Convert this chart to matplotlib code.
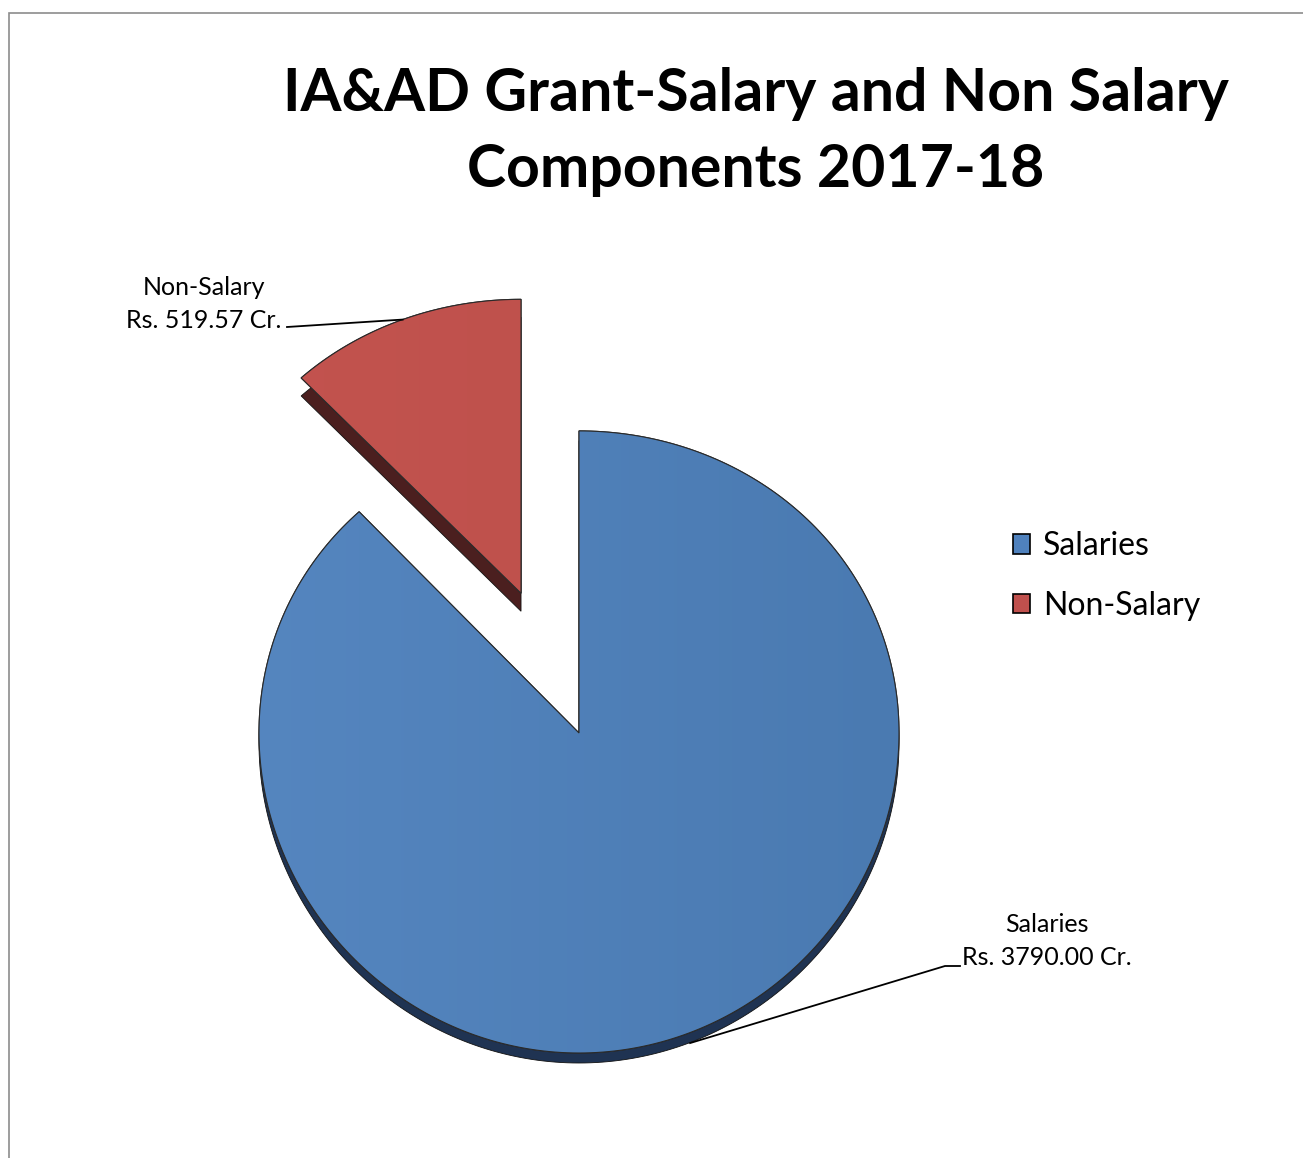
import numpy as np
import matplotlib.pyplot as plt
from matplotlib.colors import LinearSegmentedColormap
from matplotlib.patches import Rectangle, Polygon

# data
labels = ["Salaries", "Non-Salary"]
values = [3790.00, 519.57]
value_text = ["Rs. 3790.00 Cr.", "Rs. 519.57 Cr."]
colors = ["#4F81BD", "#C0504D"]
light_colors = ["#5687C1", "#C4544F"]
dark_colors = ["#4A7AB1", "#BA4E4A"]
side_colors = ["#1F3352", "#4B1F1F"]
title = "IA&AD Grant-Salary and Non Salary\nComponents 2017-18"

plt.rcParams['font.family'] = ['Lato', 'DejaVu Sans']

W, H = 1303, 1158
fig = plt.figure(figsize=(W / 100, H / 100), dpi=100)
ax = fig.add_axes([0, 0, 1, 1])

# chart frame (only top/left visible)
ax.add_patch(Rectangle((9, -20), W + 20, H - 13 + 20, fill=False,
                       edgecolor='#8c8c8c', lw=1.2))

# pie geometry in pixels
cx, cy = 579, H - 733
R = 320
depths = [10, 18]
explode = [0, 0.49 * R]   # pie explode is in data units

wedges, _ = ax.pie(values, colors=colors, startangle=90, counterclock=False,
                   explode=explode, radius=R, center=(cx, cy), frame=True)
for w in wedges:
    w.set_visible(False)


def persp(x, y):
    # tilt the disc a little: top squeezed more than the bottom
    t = (np.asarray(y) - cy) / R
    return x, cy + R * (0.972 * t - 0.028 * t * t)


def face(w, n=300):
    th = np.deg2rad(np.linspace(w.theta1, w.theta2, n))
    x0, y0 = w.center
    xs = np.concatenate([[x0], x0 + w.r * np.cos(th), [x0]])
    ys = np.concatenate([[y0], y0 + w.r * np.sin(th), [y0]])
    xs, ys = persp(xs, ys)
    return np.column_stack([xs, ys])


faces = []
for i, w in enumerate(wedges):
    pts = face(w)
    side = Polygon(pts - [0, depths[i]], closed=True, facecolor=side_colors[i],
                   edgecolor='#111111', lw=0.6, zorder=2)
    ax.add_patch(side)
for i, w in enumerate(wedges):
    pts = face(w)
    poly = Polygon(pts, closed=True, facecolor=colors[i], edgecolor='#2a2a2a',
                   lw=0.8, zorder=3, label=labels[i])
    ax.add_patch(poly)
    # soft left-to-right shading like the office chart
    cmap = LinearSegmentedColormap.from_list("g%d" % i, [light_colors[i], dark_colors[i]])
    img = ax.imshow(np.linspace(0, 1, 256)[None, :], cmap=cmap, aspect='auto',
                    extent=(cx - R - 80, cx + R, pts[:, 1].min(), pts[:, 1].max()),
                    zorder=3.5)
    img.set_clip_path(poly)
    ax.add_patch(Polygon(pts, closed=True, fill=False, edgecolor='#2a2a2a',
                         lw=0.8, zorder=4))
    faces.append(poly)

ax.set_xlim(0, W)
ax.set_ylim(0, H)
ax.set_aspect('auto')
ax.axis('off')

# data labels with leader lines
label_pos = [(1047, H - 941), (204, H - 304)]
line_start = [(945, H - 966), (287, H - 327)]
for i, w in enumerate(wedges):
    mid = np.deg2rad((w.theta1 + w.theta2) / 2 - (2 if i == 0 else 0))
    wx, wy = w.center
    r = R * (1.03 if i == 0 else 1.0)
    px, py = persp(wx + r * np.cos(mid), wy + r * np.sin(mid))
    ax.text(label_pos[i][0], label_pos[i][1], labels[i] + "\n" + value_text[i],
            ha='center', va='center', fontsize=18, linespacing=1.55, zorder=6)
    sx, sy = line_start[i]
    if i == 0:
        ax.plot([sx + 15, sx, px], [sy, sy, py], color='black', lw=1.3, zorder=6)
    else:
        ax.plot([sx, px], [sy, py], color='black', lw=1.3, zorder=6)

# title
fig.text(756 / W, 1 - 132 / H, title, ha='center', va='center',
         fontsize=42.5, fontweight='bold', linespacing=1.52)

# legend
leg = fig.legend(faces, labels, loc='center left',
                 bbox_to_anchor=(984 / W, 1 - 576 / H), frameon=False,
                 fontsize=23, handlelength=0.55, handleheight=0.55,
                 handletextpad=0.4, labelspacing=0.92)
for h in leg.legend_handles:
    h.set_edgecolor('black')
    h.set_linewidth(1.2)

fig.savefig("out.png", dpi=100)
